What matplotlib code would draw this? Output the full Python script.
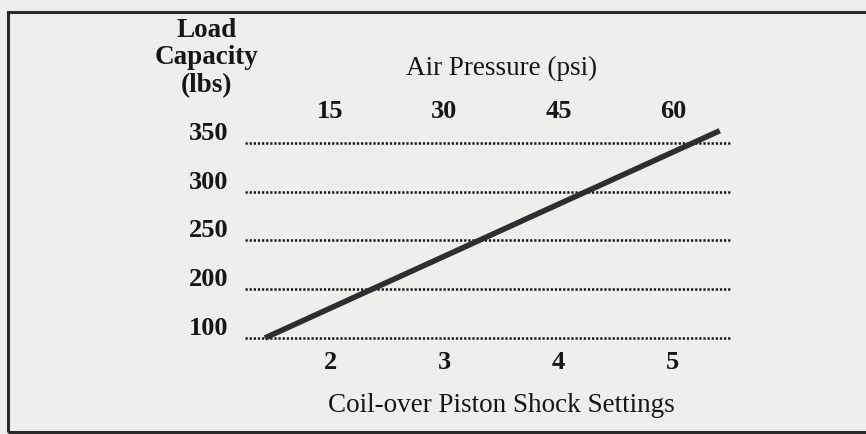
import matplotlib
matplotlib.use("Agg")
import matplotlib.pyplot as plt
from matplotlib.patches import Rectangle
from matplotlib.transforms import ScaledTranslation

# ---- data ----
load_labels = ["100", "200", "250", "300", "350"]          # categorical y levels
shock_settings = [2, 3, 4, 5]                              # bottom axis
air_pressure = ["15", "30", "45", "60"]                    # top axis (psi)
line_setting = [1.43, 5.41]                                # line ends, shock-setting scale
line_level = [0.0, 4.25]                                   # line ends, load level index

plt.rcParams["font.family"] = ["Liberation Serif", "DejaVu Serif"]
bg = "#eeeeec"
ink = "#161616"

fig = plt.figure(figsize=(8.66, 4.34), dpi=100, facecolor=bg)
ax = fig.add_axes([245 / 866, 1 - 350 / 434, 487 / 866, 230 / 434])
ax.set_facecolor("none")
for s in ax.spines.values():
    s.set_visible(False)

levels = list(range(len(load_labels)))
for lv in levels:
    ax.axhline(lv, color=ink, lw=1.8, ls=(0, (0.9, 0.75)), zorder=1)

ax.plot(line_setting, line_level, color="#2e2e2e", lw=4.0,
        solid_capstyle="butt", zorder=3)

ax.set_xlim(1.256, 5.517)
ax.set_ylim(-0.246, 4.47)

ax.set_yticks(levels)
ax.set_yticklabels(load_labels, fontsize=19, fontweight="bold", color=ink)
ax.tick_params(axis="y", length=0, pad=12)
off = ScaledTranslation(0, 0.03, fig.dpi_scale_trans)
for lab in ax.get_yticklabels():
    lab.set_va("baseline")
    lab.set_transform(lab.get_transform() + off)

ax.set_xticks(shock_settings)
ax.set_xticklabels([str(v) for v in shock_settings], fontsize=19,
                   fontweight="bold", color=ink)
ax.tick_params(axis="x", length=0, pad=1)

top = ax.secondary_xaxis("top")
top.set_xticks(shock_settings)
top.set_xticklabels(air_pressure, fontsize=19, fontweight="bold", color=ink)
top.tick_params(length=0, pad=-2)
for s in top.spines.values():
    s.set_visible(False)

fig.text(207 / 866, 1 - 58 / 434, "Load\nCapacity\n(lbs)", ha="center",
         va="center", fontsize=19.5, fontweight="bold", color=ink,
         linespacing=1.15)
fig.text(502 / 866, 1 - 68 / 434, "Air Pressure (psi)", ha="center",
         va="center", fontsize=19.5, color=ink)
fig.text(501 / 866, 1 - 406 / 434, "Coil-over Piston Shock Settings",
         ha="center", va="center", fontsize=19.5, color=ink)

# outer frame
fig.patches.append(Rectangle((8 / 866, 1 - 432 / 434), 1.0, 420 / 434,
                             transform=fig.transFigure, fill=False,
                             edgecolor="#2a2a2a", lw=2.2))

fig.savefig("out.png", dpi=100, facecolor=bg)
